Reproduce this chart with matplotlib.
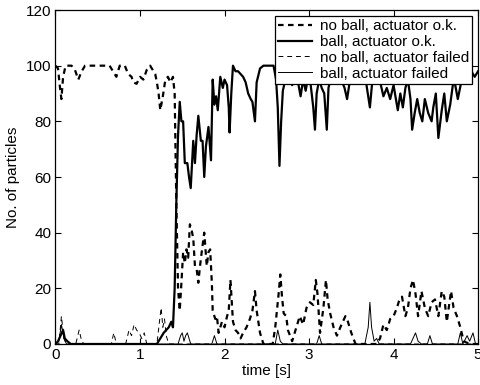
import numpy as np
import matplotlib
matplotlib.use("Agg")
import matplotlib.pyplot as plt

plt.rcParams['font.family'] = ['Liberation Sans', 'DejaVu Sans']

# (time [s], particles)
no_ball_ok = np.array([
    (0, 100), (0.03, 99), (0.05, 93), (0.07, 88), (0.09, 96), (0.12, 100), (0.19, 100),
    (0.23, 98.5), (0.27, 95), (0.31, 98), (0.35, 100), (0.64, 100), (0.68, 98), (0.72, 96),
    (0.76, 100), (0.82, 100), (0.86, 97), (0.9, 96), (0.92, 94), (0.96, 93.5), (1.0, 96),
    (1.04, 95), (1.08, 98.5), (1.12, 100), (1.16, 98), (1.18, 97), (1.2, 94), (1.22, 90),
    (1.24, 84), (1.27, 89), (1.3, 95), (1.33, 96), (1.36, 94), (1.39, 96), (1.41, 90),
    (1.43, 50), (1.45, 20), (1.47, 12), (1.49, 22), (1.51, 33), (1.53, 29), (1.55, 34),
    (1.57, 31), (1.59, 43), (1.61, 41), (1.63, 38), (1.65, 28), (1.67, 27), (1.69, 22),
    (1.71, 28), (1.73, 33), (1.76, 40), (1.79, 28), (1.81, 33), (1.83, 34), (1.85, 22),
    (1.86, 12), (1.89, 9), (1.91, 10), (1.93, 4), (1.95, 6), (1.97, 8), (2.0, 6), (2.03, 10),
    (2.05, 12), (2.07, 23), (2.09, 13), (2.1, 8), (2.13, 5), (2.16, 4), (2.19, 2), (2.22, 4),
    (2.26, 6), (2.3, 9), (2.33, 12), (2.36, 19), (2.38, 12), (2.42, 4), (2.46, 0), (2.57, 0),
    (2.6, 6), (2.64, 18), (2.66, 25), (2.68, 17), (2.7, 11), (2.73, 10), (2.75, 5), (2.8, 1),
    (2.85, 6), (2.89, 10), (2.93, 7), (2.97, 13), (3.01, 15), (3.05, 14), (3.08, 23),
    (3.1, 18), (3.13, 4), (3.17, 13), (3.2, 23), (3.22, 16), (3.25, 11), (3.29, 6), (3.33, 3),
    (3.37, 6), (3.43, 10), (3.46, 8), (3.5, 4), (3.55, 0), (3.8, 0), (3.84, 2), (3.88, 7),
    (3.92, 5), (3.96, 9), (4.0, 10), (4.04, 13), (4.07, 16), (4.1, 17), (4.14, 10),
    (4.17, 13), (4.2, 20), (4.23, 23), (4.26, 18), (4.29, 10), (4.33, 19), (4.37, 13),
    (4.41, 10), (4.45, 15), (4.49, 16), (4.53, 10), (4.57, 19), (4.6, 17), (4.63, 8),
    (4.68, 19), (4.71, 13), (4.75, 10), (4.79, 6), (4.83, 1), (4.9, 0), (5.0, 0)])

ball_ok = np.array([
    (0, 0), (0.03, 1), (0.06, 3), (0.09, 5), (0.11, 2), (0.14, 1), (0.18, 0), (1.2, 0),
    (1.24, 2), (1.28, 4), (1.31, 5), (1.34, 6), (1.37, 8), (1.39, 6), (1.41, 20), (1.43, 51),
    (1.45, 75), (1.47, 87), (1.49, 80), (1.51, 80), (1.53, 65), (1.56, 65), (1.58, 60),
    (1.6, 56), (1.63, 73), (1.65, 65), (1.67, 75), (1.69, 82), (1.72, 73), (1.74, 73),
    (1.76, 60), (1.78, 71), (1.81, 78), (1.84, 66), (1.86, 95), (1.88, 86), (1.9, 89),
    (1.92, 84), (1.95, 96), (1.98, 92), (2.0, 95), (2.03, 93), (2.05, 85), (2.06, 76),
    (2.08, 90), (2.1, 100), (2.13, 98), (2.16, 98), (2.19, 97), (2.22, 96), (2.25, 94),
    (2.28, 90), (2.31, 88), (2.33, 87), (2.36, 80), (2.38, 94), (2.42, 99), (2.46, 100),
    (2.52, 100), (2.58, 100), (2.61, 95), (2.63, 85), (2.65, 64), (2.67, 80), (2.69, 91),
    (2.72, 95), (2.76, 97), (2.8, 93), (2.84, 96), (2.87, 94), (2.9, 89), (2.93, 95),
    (2.96, 91), (2.99, 96), (3.02, 93), (3.05, 85), (3.07, 77), (3.09, 90), (3.12, 95),
    (3.15, 92), (3.18, 90), (3.21, 77), (3.23, 92), (3.26, 96), (3.3, 94), (3.34, 97),
    (3.38, 95), (3.42, 92), (3.45, 88), (3.48, 94), (3.52, 97), (3.56, 95), (3.6, 98),
    (3.64, 96), (3.68, 93), (3.72, 85), (3.75, 95), (3.8, 97), (3.85, 93), (3.88, 89),
    (3.92, 92), (3.96, 88), (4.0, 93), (4.05, 84), (4.08, 90), (4.11, 85), (4.14, 92),
    (4.17, 95), (4.2, 88), (4.22, 77), (4.25, 83), (4.28, 88), (4.31, 83), (4.34, 80),
    (4.37, 88), (4.41, 83), (4.45, 80), (4.47, 85), (4.5, 90), (4.53, 74), (4.57, 84),
    (4.6, 90), (4.63, 80), (4.67, 86), (4.71, 95), (4.73, 93), (4.76, 88), (4.8, 94),
    (4.84, 97), (4.88, 95), (4.92, 98), (4.96, 96), (5.0, 98)])

no_ball_failed = np.array([
    (0, 0), (0.04, 0), (0.07, 10), (0.1, 2), (0.13, 0), (0.24, 0), (0.28, 5), (0.31, 1),
    (0.34, 0), (0.66, 0), (0.69, 4), (0.72, 0), (0.83, 0), (0.87, 5), (0.9, 3), (0.93, 7),
    (0.96, 5), (0.99, 4), (1.02, 2), (1.05, 4), (1.08, 0), (1.2, 0), (1.23, 8), (1.25, 13),
    (1.27, 6), (1.29, 9), (1.31, 3), (1.34, 0), (5.0, 0)])

ball_failed = np.array([
    (0, 0), (0.04, 1), (0.07, 7), (0.1, 2), (0.13, 0), (1.45, 0), (1.48, 3), (1.5, 4),
    (1.52, 1), (1.54, 3), (1.56, 4), (1.58, 2), (1.6, 0), (1.85, 0), (1.88, 3), (1.91, 0),
    (2.6, 0), (2.63, 5), (2.66, 1), (2.69, 0), (3.09, 0), (3.12, 3), (3.15, 0), (3.66, 0),
    (3.7, 6), (3.72, 15), (3.74, 6), (3.77, 1), (3.8, 2), (3.83, 0), (4.2, 0), (4.26, 4),
    (4.29, 1), (4.33, 0), (4.4, 0), (4.43, 3), (4.46, 0), (4.76, 0), (4.79, 4), (4.82, 0),
    (4.87, 3), (4.9, 1), (4.94, 4), (4.97, 0), (5.0, 0)])

labels = ["no ball, actuator o.k.", "ball, actuator o.k.",
          "no ball, actuator failed", "ball, actuator failed"]

fig = plt.figure(figsize=(4.8, 3.85), dpi=100)
ax = fig.add_axes([0.1156, 0.1065, 0.8804, 0.8675])

ax.plot(no_ball_ok[:, 0], no_ball_ok[:, 1], color='k', lw=1.6,
        linestyle=(0, (2.5, 2)), label=labels[0])
ax.plot(ball_ok[:, 0], ball_ok[:, 1], color='k', lw=1.6, label=labels[1])
ax.plot(no_ball_failed[:, 0], no_ball_failed[:, 1], color='k', lw=0.7,
        linestyle=(0, (5, 4)), label=labels[2])
ax.plot(ball_failed[:, 0], ball_failed[:, 1], color='k', lw=0.7, label=labels[3])

ax.set_xlim(0, 5)
ax.set_ylim(0, 120)
ax.set_xticks(range(0, 6))
ax.set_yticks(range(0, 121, 20))
ax.tick_params(direction='in', top=True, right=True, length=4, labelsize=11, pad=3)
for s in ax.spines.values():
    s.set_linewidth(0.9)
ax.set_xlabel("time [s]", fontsize=11, labelpad=1)
ax.set_ylabel("No. of particles", fontsize=11, labelpad=4)

leg = ax.legend(loc='upper right', fontsize=11, frameon=True, fancybox=False,
                framealpha=1, borderpad=0.2, labelspacing=0.12, handlelength=2.2,
                handletextpad=0.5, borderaxespad=0.4)
leg.get_frame().set_edgecolor('k')
leg.get_frame().set_linewidth(0.9)

fig.savefig("out.png", dpi=100)
